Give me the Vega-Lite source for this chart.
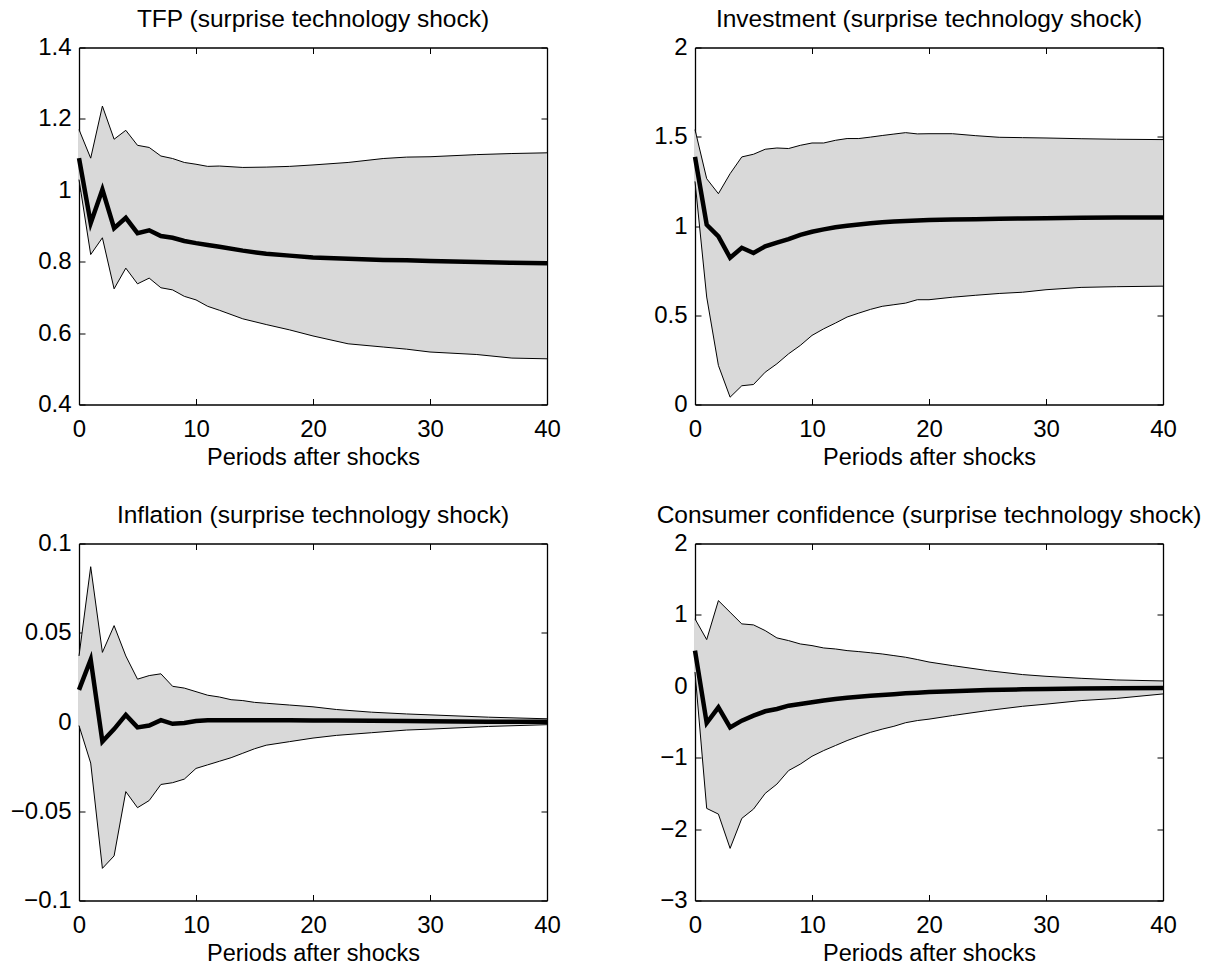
{
  "$schema": "https://vega.github.io/schema/vega-lite/v6.json",
  "padding": {"left": 10, "top": 6.5, "right": 5, "bottom": 0},
  "background": "white",
  "config": {
    "font": "Liberation Sans",
    "view": {"stroke": null},
    "axis": {
      "labelFont": "Liberation Sans", "labelFontSize": 24, "labelColor": "black",
      "tickColor": "black", "tickWidth": 1, "tickSize": -6,
      "domainColor": "black", "domainWidth": 1.3,
      "grid": false, "zindex": 1, "labelFlush": false, "labelBound": false,
      "titleFont": "Liberation Sans", "titleFontSize": 23.5, "titleFontWeight": "normal", "titleColor": "black"
    },
    "title": {"font": "Liberation Sans", "fontSize": 24.5, "fontWeight": "normal", "color": "black", "offset": 3}
  },
  "datasets": {
    "tfp": [
      {"t": 0, "lo": 1.03, "mid": 1.09, "hi": 1.17},
      {"t": 1, "lo": 0.82, "mid": 0.908, "hi": 1.09},
      {"t": 2, "lo": 0.867, "mid": 1.002, "hi": 1.236},
      {"t": 3, "lo": 0.724, "mid": 0.894, "hi": 1.143},
      {"t": 4, "lo": 0.782, "mid": 0.923, "hi": 1.168},
      {"t": 5, "lo": 0.738, "mid": 0.88, "hi": 1.126},
      {"t": 6, "lo": 0.754, "mid": 0.888, "hi": 1.12},
      {"t": 7, "lo": 0.727, "mid": 0.872, "hi": 1.096},
      {"t": 8, "lo": 0.721, "mid": 0.867, "hi": 1.089},
      {"t": 9, "lo": 0.703, "mid": 0.858, "hi": 1.078},
      {"t": 10, "lo": 0.693, "mid": 0.852, "hi": 1.073},
      {"t": 11, "lo": 0.675, "mid": 0.847, "hi": 1.067},
      {"t": 12, "lo": 0.664, "mid": 0.842, "hi": 1.068},
      {"t": 14, "lo": 0.64, "mid": 0.831, "hi": 1.064},
      {"t": 16, "lo": 0.624, "mid": 0.822, "hi": 1.065},
      {"t": 18, "lo": 0.609, "mid": 0.817, "hi": 1.067},
      {"t": 20, "lo": 0.592, "mid": 0.812, "hi": 1.071},
      {"t": 23, "lo": 0.57, "mid": 0.808, "hi": 1.078},
      {"t": 26, "lo": 0.561, "mid": 0.805, "hi": 1.089},
      {"t": 28, "lo": 0.555, "mid": 0.804, "hi": 1.093},
      {"t": 30, "lo": 0.547, "mid": 0.802, "hi": 1.094},
      {"t": 34, "lo": 0.54, "mid": 0.799, "hi": 1.1},
      {"t": 37, "lo": 0.53, "mid": 0.797, "hi": 1.103},
      {"t": 40, "lo": 0.528, "mid": 0.796, "hi": 1.105}
    ],
    "investment": [
      {"t": 0, "lo": 1.25, "mid": 1.387, "hi": 1.54},
      {"t": 1, "lo": 0.602, "mid": 1.007, "hi": 1.265},
      {"t": 2, "lo": 0.219, "mid": 0.942, "hi": 1.181},
      {"t": 3, "lo": 0.041, "mid": 0.822, "hi": 1.293},
      {"t": 4, "lo": 0.105, "mid": 0.878, "hi": 1.387},
      {"t": 5, "lo": 0.112, "mid": 0.849, "hi": 1.402},
      {"t": 6, "lo": 0.181, "mid": 0.886, "hi": 1.43},
      {"t": 7, "lo": 0.228, "mid": 0.907, "hi": 1.437},
      {"t": 8, "lo": 0.284, "mid": 0.927, "hi": 1.434},
      {"t": 9, "lo": 0.331, "mid": 0.95, "hi": 1.452},
      {"t": 10, "lo": 0.387, "mid": 0.968, "hi": 1.465},
      {"t": 11, "lo": 0.424, "mid": 0.981, "hi": 1.465},
      {"t": 12, "lo": 0.456, "mid": 0.993, "hi": 1.48},
      {"t": 13, "lo": 0.49, "mid": 1.001, "hi": 1.49},
      {"t": 14, "lo": 0.512, "mid": 1.009, "hi": 1.49},
      {"t": 15, "lo": 0.533, "mid": 1.015, "hi": 1.498},
      {"t": 16, "lo": 0.55, "mid": 1.021, "hi": 1.507},
      {"t": 17, "lo": 0.559, "mid": 1.025, "hi": 1.515},
      {"t": 18, "lo": 0.568, "mid": 1.028, "hi": 1.523},
      {"t": 19, "lo": 0.587, "mid": 1.031, "hi": 1.516},
      {"t": 20, "lo": 0.587, "mid": 1.033, "hi": 1.517},
      {"t": 22, "lo": 0.601, "mid": 1.036, "hi": 1.517},
      {"t": 24, "lo": 0.612, "mid": 1.038, "hi": 1.506},
      {"t": 26, "lo": 0.622, "mid": 1.04, "hi": 1.497},
      {"t": 28, "lo": 0.629, "mid": 1.042, "hi": 1.495},
      {"t": 30, "lo": 0.643, "mid": 1.044, "hi": 1.493},
      {"t": 33, "lo": 0.656, "mid": 1.046, "hi": 1.489},
      {"t": 36, "lo": 0.66, "mid": 1.047, "hi": 1.486},
      {"t": 40, "lo": 0.663, "mid": 1.048, "hi": 1.484}
    ],
    "inflation": [
      {"t": 0, "lo": -0.002, "mid": 0.018, "hi": 0.037},
      {"t": 1, "lo": -0.023, "mid": 0.035, "hi": 0.087},
      {"t": 2, "lo": -0.082, "mid": -0.011, "hi": 0.039},
      {"t": 3, "lo": -0.075, "mid": -0.004, "hi": 0.054},
      {"t": 4, "lo": -0.039, "mid": 0.004, "hi": 0.037},
      {"t": 5, "lo": -0.048, "mid": -0.003, "hi": 0.024},
      {"t": 6, "lo": -0.044, "mid": -0.002, "hi": 0.026},
      {"t": 7, "lo": -0.035, "mid": 0.001, "hi": 0.027},
      {"t": 8, "lo": -0.034, "mid": -0.001, "hi": 0.02},
      {"t": 9, "lo": -0.032, "mid": -0.0005, "hi": 0.019},
      {"t": 10, "lo": -0.026, "mid": 0.0005, "hi": 0.017},
      {"t": 11, "lo": -0.024, "mid": 0.001, "hi": 0.015},
      {"t": 12, "lo": -0.022, "mid": 0.001, "hi": 0.014},
      {"t": 13, "lo": -0.02, "mid": 0.001, "hi": 0.0125},
      {"t": 14, "lo": -0.0175, "mid": 0.001, "hi": 0.012},
      {"t": 15, "lo": -0.015, "mid": 0.001, "hi": 0.011},
      {"t": 16, "lo": -0.013, "mid": 0.001, "hi": 0.0105},
      {"t": 18, "lo": -0.011, "mid": 0.001, "hi": 0.0095},
      {"t": 20, "lo": -0.009, "mid": 0.0009, "hi": 0.0085},
      {"t": 22, "lo": -0.0075, "mid": 0.0008, "hi": 0.007},
      {"t": 25, "lo": -0.006, "mid": 0.0007, "hi": 0.0055},
      {"t": 28, "lo": -0.0045, "mid": 0.0005, "hi": 0.0045},
      {"t": 30, "lo": -0.004, "mid": 0.0004, "hi": 0.004},
      {"t": 35, "lo": -0.0025, "mid": 0.0002, "hi": 0.0027},
      {"t": 40, "lo": -0.0015, "mid": 0.0001, "hi": 0.0018}
    ],
    "confidence": [
      {"t": 0, "lo": 0.2, "mid": 0.5, "hi": 0.944},
      {"t": 1, "lo": -1.71, "mid": -0.514, "hi": 0.654},
      {"t": 2, "lo": -1.79, "mid": -0.294, "hi": 1.2},
      {"t": 3, "lo": -2.27, "mid": -0.575, "hi": 1.037},
      {"t": 4, "lo": -1.85, "mid": -0.481, "hi": 0.874},
      {"t": 5, "lo": -1.72, "mid": -0.411, "hi": 0.86},
      {"t": 6, "lo": -1.5, "mid": -0.35, "hi": 0.78},
      {"t": 7, "lo": -1.37, "mid": -0.318, "hi": 0.678},
      {"t": 8, "lo": -1.18, "mid": -0.271, "hi": 0.64},
      {"t": 9, "lo": -1.09, "mid": -0.248, "hi": 0.593},
      {"t": 10, "lo": -0.98, "mid": -0.224, "hi": 0.57},
      {"t": 11, "lo": -0.9, "mid": -0.2, "hi": 0.537},
      {"t": 12, "lo": -0.83, "mid": -0.178, "hi": 0.523},
      {"t": 13, "lo": -0.76, "mid": -0.161, "hi": 0.5},
      {"t": 14, "lo": -0.7, "mid": -0.145, "hi": 0.486},
      {"t": 15, "lo": -0.645, "mid": -0.133, "hi": 0.47},
      {"t": 16, "lo": -0.6, "mid": -0.121, "hi": 0.453},
      {"t": 17, "lo": -0.56, "mid": -0.11, "hi": 0.43},
      {"t": 18, "lo": -0.51, "mid": -0.098, "hi": 0.407},
      {"t": 19, "lo": -0.48, "mid": -0.09, "hi": 0.375},
      {"t": 20, "lo": -0.46, "mid": -0.08, "hi": 0.34},
      {"t": 22, "lo": -0.41, "mid": -0.068, "hi": 0.29},
      {"t": 25, "lo": -0.34, "mid": -0.051, "hi": 0.22},
      {"t": 28, "lo": -0.28, "mid": -0.042, "hi": 0.164},
      {"t": 30, "lo": -0.25, "mid": -0.037, "hi": 0.14},
      {"t": 33, "lo": -0.2, "mid": -0.031, "hi": 0.112},
      {"t": 36, "lo": -0.17, "mid": -0.027, "hi": 0.089},
      {"t": 40, "lo": -0.107, "mid": -0.023, "hi": 0.075}
    ]
  },
  "columns": 2,
  "spacing": {"row": 139, "column": 148},
  "bounds": "flush",
  "concat": [
    {
      "title": "TFP (surprise technology shock)",
      "width": 468, "height": 357,
      "data": {"name": "tfp"},
      "resolve": {"axis": {"x": "independent", "y": "independent"}},
      "layer": [
        {"mark": {"type": "area", "color": "#d9d9d9", "opacity": 1},
         "encoding": {
           "x": {"field": "t", "type": "quantitative", "scale": {"domain": [0, 40], "nice": false},
                 "axis": {"orient": "bottom", "values": [0, 10, 20, 30, 40], "format": "d", "title": "Periods after shocks", "labelPadding": 19, "titlePadding": 4}},
           "y": {"field": "lo", "type": "quantitative", "scale": {"domain": [0.4, 1.4], "nice": false, "zero": false},
                 "axis": {"orient": "left", "values": [0.4, 0.6, 0.8, 1, 1.2, 1.4], "format": "~g", "title": null, "labelPadding": 14}},
           "y2": {"field": "hi"}}},
        {"mark": {"type": "line", "color": "black", "strokeWidth": 1},
         "encoding": {
           "x": {"field": "t", "type": "quantitative", "axis": {"orient": "top", "values": [0, 10, 20, 30, 40], "labels": false, "title": null}},
           "y": {"field": "hi", "type": "quantitative", "axis": {"orient": "right", "values": [0.4, 0.6, 0.8, 1, 1.2, 1.4], "labels": false, "title": null}}}},
        {"mark": {"type": "line", "color": "black", "strokeWidth": 1},
         "encoding": {
           "x": {"field": "t", "type": "quantitative", "axis": null},
           "y": {"field": "lo", "type": "quantitative", "axis": null}}},
        {"mark": {"type": "line", "color": "black", "strokeWidth": 4.5},
         "encoding": {
           "x": {"field": "t", "type": "quantitative", "axis": null},
           "y": {"field": "mid", "type": "quantitative", "axis": null}}}
      ]
    },
    {
      "title": "Investment (surprise technology shock)",
      "width": 468, "height": 357,
      "data": {"name": "investment"},
      "resolve": {"axis": {"x": "independent", "y": "independent"}},
      "layer": [
        {"mark": {"type": "area", "color": "#d9d9d9", "opacity": 1},
         "encoding": {
           "x": {"field": "t", "type": "quantitative", "scale": {"domain": [0, 40], "nice": false},
                 "axis": {"orient": "bottom", "values": [0, 10, 20, 30, 40], "format": "d", "title": "Periods after shocks", "labelPadding": 19, "titlePadding": 4}},
           "y": {"field": "lo", "type": "quantitative", "scale": {"domain": [0, 2], "nice": false, "zero": false},
                 "axis": {"orient": "left", "values": [0, 0.5, 1, 1.5, 2], "format": "~g", "title": null, "labelPadding": 14}},
           "y2": {"field": "hi"}}},
        {"mark": {"type": "line", "color": "black", "strokeWidth": 1},
         "encoding": {
           "x": {"field": "t", "type": "quantitative", "axis": {"orient": "top", "values": [0, 10, 20, 30, 40], "labels": false, "title": null}},
           "y": {"field": "hi", "type": "quantitative", "axis": {"orient": "right", "values": [0, 0.5, 1, 1.5, 2], "labels": false, "title": null}}}},
        {"mark": {"type": "line", "color": "black", "strokeWidth": 1},
         "encoding": {
           "x": {"field": "t", "type": "quantitative", "axis": null},
           "y": {"field": "lo", "type": "quantitative", "axis": null}}},
        {"mark": {"type": "line", "color": "black", "strokeWidth": 4.5},
         "encoding": {
           "x": {"field": "t", "type": "quantitative", "axis": null},
           "y": {"field": "mid", "type": "quantitative", "axis": null}}}
      ]
    },
    {
      "title": "Inflation (surprise technology shock)",
      "width": 468, "height": 357,
      "data": {"name": "inflation"},
      "resolve": {"axis": {"x": "independent", "y": "independent"}},
      "layer": [
        {"mark": {"type": "area", "color": "#d9d9d9", "opacity": 1},
         "encoding": {
           "x": {"field": "t", "type": "quantitative", "scale": {"domain": [0, 40], "nice": false},
                 "axis": {"orient": "bottom", "values": [0, 10, 20, 30, 40], "format": "d", "title": "Periods after shocks", "labelPadding": 19, "titlePadding": 4}},
           "y": {"field": "lo", "type": "quantitative", "scale": {"domain": [-0.1, 0.1], "nice": false, "zero": false},
                 "axis": {"orient": "left", "values": [-0.1, -0.05, 0, 0.05, 0.1], "format": "~g", "title": null, "labelPadding": 14}},
           "y2": {"field": "hi"}}},
        {"mark": {"type": "line", "color": "black", "strokeWidth": 1},
         "encoding": {
           "x": {"field": "t", "type": "quantitative", "axis": {"orient": "top", "values": [0, 10, 20, 30, 40], "labels": false, "title": null}},
           "y": {"field": "hi", "type": "quantitative", "axis": {"orient": "right", "values": [-0.1, -0.05, 0, 0.05, 0.1], "labels": false, "title": null}}}},
        {"mark": {"type": "line", "color": "black", "strokeWidth": 1},
         "encoding": {
           "x": {"field": "t", "type": "quantitative", "axis": null},
           "y": {"field": "lo", "type": "quantitative", "axis": null}}},
        {"mark": {"type": "line", "color": "black", "strokeWidth": 4.5},
         "encoding": {
           "x": {"field": "t", "type": "quantitative", "axis": null},
           "y": {"field": "mid", "type": "quantitative", "axis": null}}}
      ]
    },
    {
      "title": "Consumer confidence (surprise technology shock)",
      "width": 468, "height": 357,
      "data": {"name": "confidence"},
      "resolve": {"axis": {"x": "independent", "y": "independent"}},
      "layer": [
        {"mark": {"type": "area", "color": "#d9d9d9", "opacity": 1},
         "encoding": {
           "x": {"field": "t", "type": "quantitative", "scale": {"domain": [0, 40], "nice": false},
                 "axis": {"orient": "bottom", "values": [0, 10, 20, 30, 40], "format": "d", "title": "Periods after shocks", "labelPadding": 19, "titlePadding": 4}},
           "y": {"field": "lo", "type": "quantitative", "scale": {"domain": [-3, 2], "nice": false, "zero": false},
                 "axis": {"orient": "left", "values": [-3, -2, -1, 0, 1, 2], "format": "~g", "title": null, "labelPadding": 14}},
           "y2": {"field": "hi"}}},
        {"mark": {"type": "line", "color": "black", "strokeWidth": 1},
         "encoding": {
           "x": {"field": "t", "type": "quantitative", "axis": {"orient": "top", "values": [0, 10, 20, 30, 40], "labels": false, "title": null}},
           "y": {"field": "hi", "type": "quantitative", "axis": {"orient": "right", "values": [-3, -2, -1, 0, 1, 2], "labels": false, "title": null}}}},
        {"mark": {"type": "line", "color": "black", "strokeWidth": 1},
         "encoding": {
           "x": {"field": "t", "type": "quantitative", "axis": null},
           "y": {"field": "lo", "type": "quantitative", "axis": null}}},
        {"mark": {"type": "line", "color": "black", "strokeWidth": 4.5},
         "encoding": {
           "x": {"field": "t", "type": "quantitative", "axis": null},
           "y": {"field": "mid", "type": "quantitative", "axis": null}}}
      ]
    }
  ]
}
